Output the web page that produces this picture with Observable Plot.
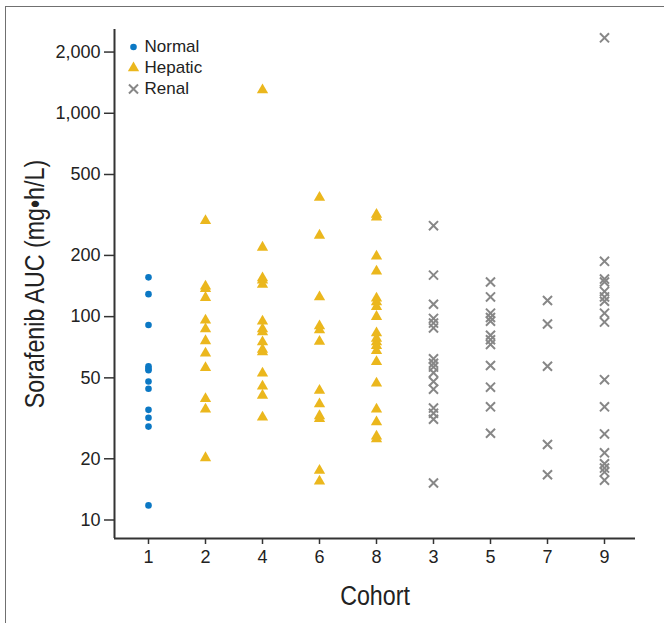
<!DOCTYPE html>
<html>
<head>
<meta charset="utf-8">
<script src="https://cdn.jsdelivr.net/npm/d3@7"></script>
<script src="https://cdn.jsdelivr.net/npm/@observablehq/plot@0.6"></script>
<style>
  html, body { margin: 0; padding: 0; background: #fff; overflow: hidden; width: 664px; height: 623px; }
  #wrap { position: relative; width: 664px; height: 623px; }
  #border { position: absolute; left: 5px; top: 6px; width: 720px; height: 720px; border: 1.6px solid #707070; box-sizing: border-box; }
  #chart { position: absolute; left: 0; top: 0; }
</style>
</head>
<body>
<div id="wrap"><div id="border"></div><div id="chart"></div></div>
<script>
// Cohort order along the x axis
const cohortOrder = ["1", "2", "4", "6", "8", "3", "5", "7", "9"];
// Group of each cohort
const groupNames = ["Normal", "Hepatic", "Renal"];
const groupColors = ["#0b78c4", "#ebb71d", "#878787"];
const groupSymbols = ["circle", "triangle", "times"];
const cohortGroup = {"1": "Normal", "2": "Hepatic", "4": "Hepatic", "6": "Hepatic", "8": "Hepatic",
                     "3": "Renal", "5": "Renal", "7": "Renal", "9": "Renal"};

// Sorafenib AUC (mg•h/L) per cohort
const auc1 = [156, 129, 91, 57, 55.5, 54.5, 48, 44.2, 34.8, 31.8, 28.8, 11.8];
const auc2 = [296, 141, 137, 124, 96, 87, 76, 66, 56, 39.5, 35, 20.2];
const auc4 = [1300, 219, 155, 151, 144, 95, 87, 84, 75, 69, 67, 52.7, 45.5, 41, 32];
const auc6 = [385, 251, 125, 90, 86, 75.5, 43.3, 37.2, 32.5, 31.5, 17.5, 15.5];
const auc8 = [318, 308, 198, 167, 123, 118, 112, 100, 83, 78, 75, 72, 68, 60, 47, 35, 30.3, 25.8, 25];
const auc3 = [280, 160, 115, 98, 93, 88, 62, 59, 56.5, 53, 48, 44, 35.5, 33.5, 31.3, 15.2];
const auc5 = [148, 125, 104, 99, 95, 81, 77, 73, 57.5, 45, 36, 26.7];
const auc7 = [120, 92, 57, 23.5, 16.7];
const auc9 = [2350, 187, 153, 148, 133, 125, 119, 104, 94, 49, 36, 26.5, 21.4, 18.9, 18, 17.2, 15.7];

const yTicks = [10, 20, 50, 100, 200, 500, 1000, 2000];
const yDomain = [8.11, 2582];

const byCohort = {"1": auc1, "2": auc2, "4": auc4, "6": auc6, "8": auc8, "3": auc3, "5": auc5, "7": auc7, "9": auc9};
const data = [];
for (const c of cohortOrder) for (const v of byCohort[c]) data.push({cohort: c, auc: v, group: cohortGroup[c]});

const font = "'Liberation Sans', Arial, Helvetica, sans-serif";

const legendMarks = [];
groupNames.forEach((g, i) => {
  const sym = groupSymbols[i];
  const isStroke = sym === "times";
  legendMarks.push(Plot.dot([g], {
    frameAnchor: "top-left", dx: 19, dy: 17.5 + i * 21,
    symbol: sym, r: sym === "circle" ? 3.3 : 4.2,
    fill: isStroke ? "none" : groupColors[i],
    stroke: isStroke ? groupColors[i] : "none",
    strokeWidth: 2
  }));
  legendMarks.push(Plot.text([g], {
    frameAnchor: "top-left", dx: 30, dy: 17.5 + i * 21,
    text: d => d, textAnchor: "start", lineAnchor: "middle",
    fontSize: 17, fill: "#222", fontFamily: font
  }));
});

const groupColor = Object.fromEntries(groupNames.map((g, i) => [g, groupColors[i]]));

const chart = Plot.plot({
  width: 664,
  height: 623,
  marginLeft: 114,
  marginRight: 29,
  marginTop: 29,
  marginBottom: 85,
  style: {fontFamily: font, background: "transparent"},
  x: {type: "point", domain: cohortOrder, range: [148, 604.4], padding: 0},
  y: {type: "log", domain: yDomain, range: [538, 29]},
  symbol: {domain: groupNames, range: groupSymbols},
  marks: [
    Plot.axisY({ticks: yTicks, tickSize: 10, stroke: "#333", strokeWidth: 1.5, fill: "none", label: null}),
    Plot.text(yTicks, {y: d => d, frameAnchor: "left", dx: -14, textAnchor: "end", lineAnchor: "middle",
                       text: d => d3.format(",")(d), fontSize: 18, fill: "#222", fontFamily: font}),
    Plot.axisX({tickSize: 6, tickPadding: 6, fontSize: 18, stroke: "#333", strokeWidth: 1.5, fill: "#222", label: null}),
    Plot.ruleY([yDomain[0]], {stroke: "#333", strokeWidth: 2}),
    Plot.ruleX([cohortOrder[0]], {dx: -34, stroke: "#333", strokeWidth: 2}),
    Plot.dot(data.filter(d => d.group === "Normal"), {x: "cohort", y: "auc", symbol: "group", r: 3.3, fill: groupColor.Normal}),
    Plot.dot(data.filter(d => d.group === "Hepatic"), {x: "cohort", y: "auc", symbol: "group", r: 4.2, fill: groupColor.Hepatic}),
    Plot.dot(data.filter(d => d.group === "Renal"), {x: "cohort", y: "auc", symbol: "group", r: 4.2, stroke: groupColor.Renal, strokeWidth: 2}),
    ...legendMarks,
    Plot.text(["Cohort"], {frameAnchor: "bottom", dy: 58, text: d => d, fontSize: 28, fill: "#222",
                           fontFamily: font, textAnchor: "middle", lineAnchor: "middle", className: "narrow-title"}),
    Plot.text(["Sorafenib AUC (mg•h/L)"], {frameAnchor: "left", dx: -79.5, rotate: -90, text: d => d,
                           fontSize: 28, fill: "#222", fontFamily: font, textAnchor: "middle", lineAnchor: "middle",
                           className: "narrow-title"})
  ]
});
// condense the axis titles horizontally (the original uses a condensed typeface)
chart.querySelectorAll(".narrow-title text").forEach(t => {
  const tr = t.getAttribute("transform") || "";
  t.setAttribute("transform", (tr + " scale(0.83,1)").trim());
});
document.getElementById("chart").appendChild(chart);
</script>
</body>
</html>
